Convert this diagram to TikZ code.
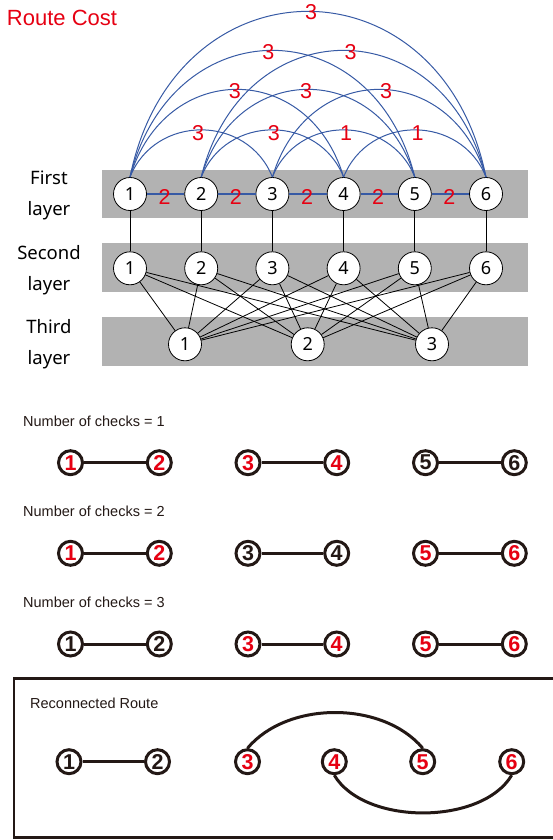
\documentclass[tikz,border=0pt]{standalone}
\usepackage{fontspec}
\setmainfont{Liberation Sans}
\newfontfamily\kfont{Noto Sans}
\definecolor{rcred}{RGB}{230,0,18}
\definecolor{rcblue}{RGB}{55,90,165}
\definecolor{rcgray}{RGB}{178,178,178}
\definecolor{rcink}{RGB}{35,24,21}
\begin{document}
\begin{tikzpicture}[x=1pt,y=-1pt,
  band/.style={fill=rcgray,draw=none},
  tnode/.style={circle,draw=black,fill=white,line width=0.8pt,minimum size=33pt,inner sep=0pt,font=\kfont\fontsize{18}{18}\selectfont},
  lyr/.style={align=center,font=\kfont\fontsize{18.5}{31}\selectfont},
  titletext/.style={text=rcred,font=\fontsize{22}{22}\selectfont,inner sep=0pt},
  costlbl/.style={text=rcred,font=\fontsize{21.5}{21.5}\selectfont,inner sep=0pt},
  blueedge/.style={draw=rcblue,line width=1.8pt},
  bluearc/.style={draw=rcblue,line width=1pt},
  link/.style={draw=black,line width=0.8pt},
  cnode/.style={circle,draw=rcink,line width=3pt,fill=white,minimum size=24pt,inner sep=0pt,font=\bfseries\fontsize{21.5}{21.5}\selectfont},
  rd/.style={cnode,text=rcred},
  bk/.style={cnode,text=rcink},
  pairlink/.style={draw=rcink,line width=3pt},
  rowtext/.style={anchor=west,inner sep=0pt,text=rcink,font=\fontsize{14.5}{14.5}\selectfont}
]
\useasboundingbox (0,0) rectangle (553,840);

% gray bands
\fill[band] (102,170) rectangle (528,218);
\fill[band] (102,243) rectangle (528,292);
\fill[band] (102,317) rectangle (528,366);

\node[titletext] (title) at (62,18) {Route Cost};
\node[lyr] (lab1) at (49,195) {First\\layer};
\node[lyr] (lab2) at (49,270) {Second\\layer};
\node[lyr] (lab3) at (49,344) {Third\\layer};

\foreach \i/\x in {1/130,2/201.2,3/272.4,4/343.6,5/414.8,6/486} {
  \node[tnode] (f\i) at (\x,194) {\i};
  \node[tnode] (s\i) at (\x,268.3) {\i};
}
\foreach \i/\x in {1/185,2/307.7,3/432} {
  \node[tnode] (t\i) at (\x,344.3) {\i};
}

% vertical links
\foreach \i in {1,...,6} { \draw[link] (f\i) -- (s\i); }
% bipartite links
\foreach \i in {1,...,6} { \foreach \j in {1,2,3} { \draw[link] (s\i) -- (t\j); } }

% adjacent blue edges
\foreach \i/\j in {1/2,2/3,3/4,4/5,5/6} {
  \draw[blueedge] (f\i) -- node[costlbl,xshift=-1pt,yshift=-2.5pt] {2} (f\j);
}

% arcs, span 2
\draw[bluearc] (f1.north) .. controls +(25,-63) and +(-25,-63) .. (f3.north) node[costlbl,pos=0.5,xshift=-3pt,yshift=-3pt] {3};
\draw[bluearc] (f2.north) .. controls +(25,-63) and +(-25,-63) .. (f4.north) node[costlbl,pos=0.5,xshift=1.5pt,yshift=-3pt] {3};
\draw[bluearc] (f3.north) .. controls +(25,-63) and +(-25,-63) .. (f5.north) node[costlbl,pos=0.5,xshift=2.5pt,yshift=-3.5pt] {1};
\draw[bluearc] (f4.north) .. controls +(25,-63) and +(-25,-63) .. (f6.north) node[costlbl,pos=0.5,xshift=2.7pt,yshift=-3.5pt] {1};
% span 3
\draw[bluearc] (f1.north) .. controls +(35,-117) and +(-35,-117) .. (f4.north) node[costlbl,pos=0.5,xshift=-2pt,yshift=-2pt] {3};
\draw[bluearc] (f2.north) .. controls +(35,-117) and +(-35,-117) .. (f5.north) node[costlbl,pos=0.5,xshift=-2pt,yshift=-2pt] {3};
\draw[bluearc] (f3.north) .. controls +(35,-117) and +(-35,-117) .. (f6.north) node[costlbl,pos=0.5,xshift=7pt,yshift=-2pt] {3};
% span 4
\draw[bluearc] (f1.north) .. controls +(42,-169) and +(-42,-169) .. (f5.north) node[costlbl,pos=0.5,xshift=-4pt,yshift=-1.5pt] {3};
\draw[bluearc] (f2.north) .. controls +(42,-169) and +(-42,-169) .. (f6.north) node[costlbl,pos=0.5,xshift=7pt,yshift=-1.5pt] {3};
% span 5
\draw[bluearc] (f1.north) .. controls +(45,-221) and +(-45,-221) .. (f6.north) node[costlbl,pos=0.5,xshift=3pt,yshift=-1pt] {3};

% ---------- checks ----------
\node[rowtext] (txt1) at (23,421) {Number of checks = 1};
\node[rowtext] (txt2) at (23,511.7) {Number of checks = 2};
\node[rowtext] (txt3) at (23,602.3) {Number of checks = 3};

\node[rd] (a1) at (70.5,462.7) {1};
\node[rd] (a2) at (159.3,462.7) {2};
\node[rd] (a3) at (248,462.7) {3};
\node[rd] (a4) at (336.7,462.7) {4};
\node[bk] (a5) at (425.5,462.7) {5};
\node[bk] (a6) at (514.3,462.7) {6};

\node[rd] (b1) at (70.5,553.3) {1};
\node[rd] (b2) at (159.3,553.3) {2};
\node[bk] (b3) at (248,553.3) {3};
\node[bk] (b4) at (336.7,553.3) {4};
\node[rd] (b5) at (425.5,553.3) {5};
\node[rd] (b6) at (514.3,553.3) {6};

\node[bk] (c1) at (70.5,644) {1};
\node[bk] (c2) at (159.3,644) {2};
\node[rd] (c3) at (248,644) {3};
\node[rd] (c4) at (336.7,644) {4};
\node[rd] (c5) at (425.5,644) {5};
\node[rd] (c6) at (514.3,644) {6};

\foreach \r in {a,b,c} {
  \draw[pairlink] (\r1) -- (\r2);
  \draw[pairlink] (\r3) -- (\r4);
  \draw[pairlink] (\r5) -- (\r6);
}

% ---------- reconnected route ----------
\draw[rcink,line width=2.5pt] (14,678.5) rectangle (556,837.5);
\node[rowtext] (txt4) at (30,703) {Reconnected Route};

\node[bk] (d1) at (69,761.7) {1};
\node[bk] (d2) at (157.5,761.7) {2};
\node[rd] (d3) at (247.5,761.7) {3};
\node[rd] (d4) at (334.3,761.7) {4};
\node[rd] (d5) at (422.7,761.7) {5};
\node[rd] (d6) at (511.7,761.7) {6};

\draw[pairlink] (d1) -- (d2);
\draw[pairlink] (d3.north) .. controls +(40,-47.6) and +(-40,-47.6) .. (d5.north);
\draw[pairlink] (d4.south) .. controls +(30,50.3) and +(-30,50.3) .. (d6.south);
\end{tikzpicture}
\end{document}
